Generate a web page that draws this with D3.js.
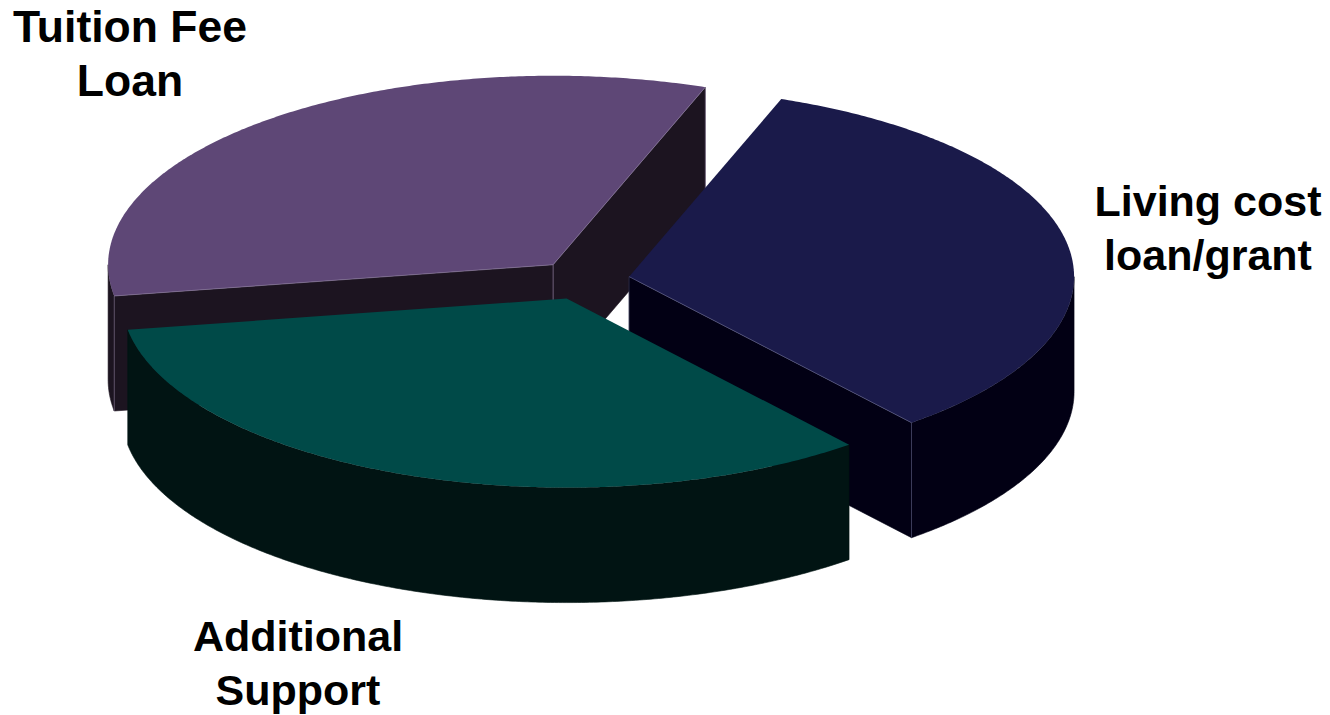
<!DOCTYPE html>
<html>
<head>
<meta charset="utf-8">
<script src="https://cdn.jsdelivr.net/npm/d3@7"></script>
<style>
  html, body { margin: 0; padding: 0; background: #ffffff; }
  svg { display: block; }
</style>
</head>
<body>
<svg id="chart" width="1330" height="715"></svg>
<script>
// ---- data ----
const categories = ["Living cost loan/grant", "Additional Support", "Tuition Fee Loan"];
const values = [33.5, 33.3, 33.2];
const labelLines = [["Living cost", "loan/grant"], ["Additional", "Support"], ["Tuition Fee", "Loan"]];

// ---- styles / layout ----
const topColors  = ["#1a1a4a", "#004a48", "#5e4776"];
const sideColors = ["#020014", "#011413", "#1c1420"];
const edgeColors = ["#6f6f98", "#3f6f6c", "#9b8aae"];
const labelPos = [{x: 1208, y: 216, size: 43}, {x: 298, y: 651, size: 43}, {x: 130, y: 42, size: 44.5}];
const lineGap = 54;

const W = 1330, H = 715;
const cx = 583, cy = 280, rx = 445, ry = 189, depth = 115, explode = 0.105;
const deg = Math.PI / 180;

const svg = d3.select("#chart");
const sx = d3.scaleLinear().domain([-1, 1]).range([-rx, rx]);
const sy = d3.scaleLinear().domain([-1, 1]).range([-ry, ry]);

const pie = d3.pie().sort(null).value(d => d)
  .startAngle(20 * deg).endAngle(20 * deg + 2 * Math.PI);
const arcs = pie(values).map((a, i) => {
  const t0 = a.startAngle - Math.PI / 2, t1 = a.endAngle - Math.PI / 2;
  const tm = (t0 + t1) / 2;
  return Object.assign(a, {
    i, t0, t1,
    vx: cx + explode * sx(Math.cos(tm)),
    vy: cy + explode * sy(Math.sin(tm))
  });
});

const line = d3.line();
function rim(a, t, dz) { return [a.vx + sx(Math.cos(t)), a.vy + sy(Math.sin(t)) + dz]; }
function sample(t0, t1) {
  const n = Math.max(2, Math.ceil(Math.abs(t1 - t0) / (0.5 * deg)));
  return d3.range(n + 1).map(k => t0 + (t1 - t0) * k / n);
}

const order = arcs.slice().sort((a, b) => a.vy - b.vy);
order.forEach(a => {
  const g = svg.append("g");
  const V = [a.vx, a.vy], Vb = [a.vx, a.vy + depth];
  // radial walls
  const walls = [];
  if (Math.cos(a.t0) < 0) walls.push(a.t0);
  if (Math.cos(a.t1) > 0) walls.push(a.t1);
  walls.forEach(t => {
    const P = rim(a, t, 0), Pb = rim(a, t, depth);
    g.append("path").attr("d", line([V, P, Pb, Vb]) + "Z")
      .attr("fill", sideColors[a.i]).attr("stroke", sideColors[a.i]).attr("stroke-width", 0.6);
  });
  // outer curved side (front-facing portion only)
  [-1, 0, 1].forEach(k => {
    const lo = Math.max(a.t0, k * 2 * Math.PI), hi = Math.min(a.t1, k * 2 * Math.PI + Math.PI);
    if (hi > lo) {
      const ts = sample(lo, hi);
      const pts = ts.map(t => rim(a, t, 0)).concat(ts.slice().reverse().map(t => rim(a, t, depth)));
      g.append("path").attr("d", line(pts) + "Z")
        .attr("fill", sideColors[a.i]).attr("stroke", sideColors[a.i]).attr("stroke-width", 0.6);
    }
  });
  // faint vertical edges at wall corners
  walls.forEach(t => {
    const P = rim(a, t, 0), Pb = rim(a, t, depth);
    g.append("path").attr("d", line([P, Pb])).attr("stroke", edgeColors[a.i])
      .attr("stroke-width", 0.7).attr("opacity", 0.7).attr("fill", "none");
    g.append("path").attr("d", line([V, Vb])).attr("stroke", edgeColors[a.i])
      .attr("stroke-width", 0.7).attr("opacity", 0.5).attr("fill", "none");
  });
  // top face
  const topPts = [V].concat(sample(a.t0, a.t1).map(t => rim(a, t, 0)));
  g.append("path").attr("d", line(topPts) + "Z").attr("fill", topColors[a.i]);
  // faint top edges along visible walls
  walls.forEach(t => {
    g.append("path").attr("d", line([V, rim(a, t, 0)])).attr("stroke", edgeColors[a.i])
      .attr("stroke-width", 0.7).attr("opacity", 0.8).attr("fill", "none");
  });
});

// labels
arcs.forEach(a => {
  const t = svg.append("text")
    .attr("text-anchor", "middle")
    .attr("font-family", "'Liberation Sans', Arial, sans-serif")
    .attr("font-weight", "bold")
    .attr("font-size", labelPos[a.i].size)
    .attr("fill", "#000");
  labelLines[a.i].forEach((s, k) => {
    t.append("tspan").attr("x", labelPos[a.i].x).attr("y", labelPos[a.i].y + k * lineGap).text(s);
  });
});
</script>
</body>
</html>
